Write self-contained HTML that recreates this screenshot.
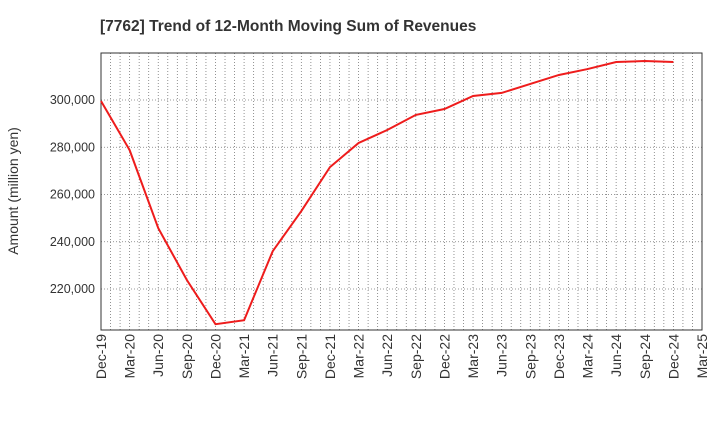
<!DOCTYPE html>
<html><head><meta charset="utf-8"><style>
body{margin:0;background:#fff;font-family:"Liberation Sans",sans-serif}
</style></head><body>
<svg id="chart" width="720" height="440" xmlns="http://www.w3.org/2000/svg" font-family="Liberation Sans, sans-serif">
<text x="100" y="31" font-size="15.5" font-weight="bold" fill="#333">[7762]  Trend of 12-Month Moving Sum of Revenues</text>
<text transform="translate(18,191) rotate(-90)" text-anchor="middle" font-size="14" fill="#333">Amount (million yen)</text>
<g id="grid"></g><g id="axes"></g><g id="series"></g>
</svg>
<script>
const categories=["Dec-19","Mar-20","Jun-20","Sep-20","Dec-20","Mar-21","Jun-21","Sep-21","Dec-21","Mar-22","Jun-22","Sep-22","Dec-22","Mar-23","Jun-23","Sep-23","Dec-23","Mar-24","Jun-24","Sep-24","Dec-24","Mar-25"];
const revenues=[299600,278800,245800,223800,205100,206800,236000,253000,271600,281800,287300,293700,296200,301700,303000,306800,310600,313100,316100,316500,316100];
const yTicks=[220000,240000,260000,280000,300000];
const L=101,R=702,T=53,B=330,yMin=202650,yMax=319900;
const NS="http://www.w3.org/2000/svg";
function x(i){return L+(R-L)*i/(categories.length-1);}
function y(v){return B-(v-yMin)/(yMax-yMin)*(B-T);}
function mk(tag,attrs,parent){const e=document.createElementNS(NS,tag);for(const k in attrs)e.setAttribute(k,attrs[k]);parent.appendChild(e);return e;}
const grid=document.getElementById('grid'),axes=document.getElementById('axes'),series=document.getElementById('series');
for(let m=1;m<(categories.length-1)*3;m++){const xx=L+(R-L)*m/((categories.length-1)*3);
const g=mk('line',{x1:xx,x2:xx,y1:T,y2:B,stroke:'#777','stroke-width':0.8,'stroke-dasharray':'1,2'},grid);

}
yTicks.forEach(v=>{const g=mk('line',{x1:L,x2:R,y1:y(v),y2:y(v),stroke:'#777','stroke-width':0.8,'stroke-dasharray':'1,2'},grid);


const t=mk('text',{x:L-6,y:y(v)+4,'text-anchor':'end','font-size':12.5,fill:'#333'},axes);t.textContent=v.toLocaleString('en-US');

});
categories.forEach((c,i)=>{const t=mk('text',{transform:`translate(${x(i)+5},${B+4}) rotate(-90)`,'text-anchor':'end','font-size':14,fill:'#333'},axes);t.textContent=c;

});
const fr=mk('rect',{x:L,y:T,width:R-L,height:B-T,fill:'none',stroke:'#333','stroke-width':1},axes);


const p=mk('polyline',{points:revenues.map((v,i)=>x(i)+','+y(v)).join(' '),fill:'none',stroke:'#ee1c1c','stroke-width':2},series);


</script>
</body></html>
